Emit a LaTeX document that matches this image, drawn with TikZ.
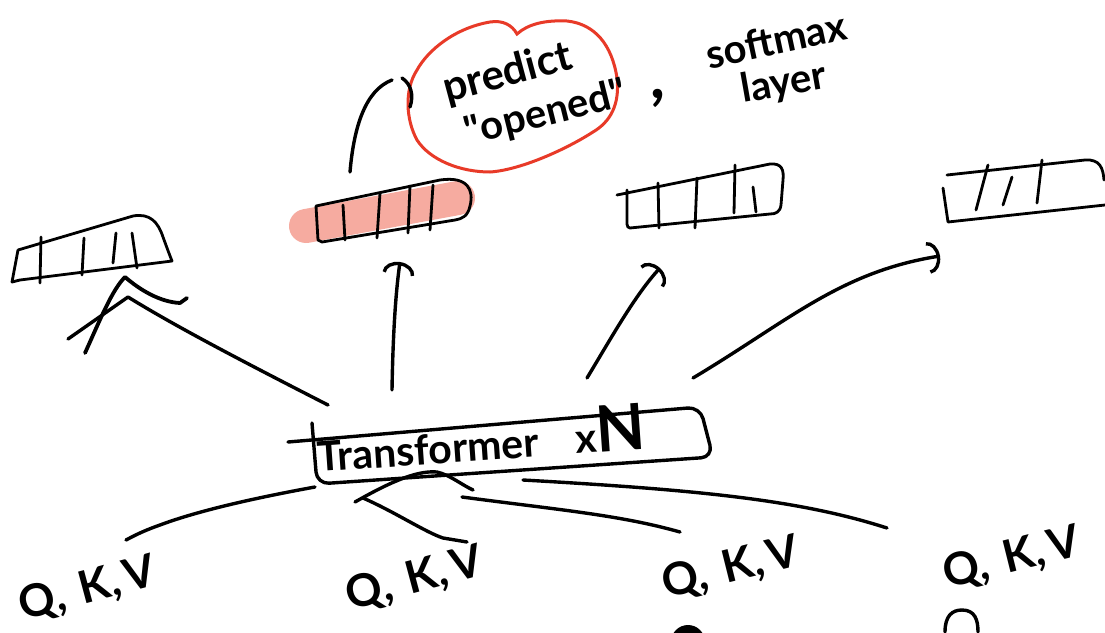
\documentclass[tikz,border=0pt]{standalone}
\usepackage{fontspec}
\setmainfont{Lato}
\usetikzlibrary{arrows.meta}
\definecolor{inkred}{RGB}{232,58,40}
\definecolor{marker}{RGB}{246,171,160}
\newcommand{\qkv}{Q,\hspace{0.35em}K,\hspace{0.12em}V}
\begin{document}
\begin{tikzpicture}[x=1pt,y=-1pt,
  ink/.style={line width=3.4pt,line cap=round,line join=round},
  fine/.style={line width=2.8pt,line cap=round,line join=round},
  hook/.style={ink,-{Arc Barb[length=12pt,width=32pt]}},
  hand/.style={inner sep=0pt,font=\bfseries\fontsize{#1}{#1}\selectfont},
  hand/.default=42]
\useasboundingbox (0,0) rectangle (1105,632);
\fill[white] (0,0) rectangle (1105,632);

% marker stroke behind the predicted vector
\draw[marker,line width=34pt,line cap=round] (306,226) -- (458,198);

% ---- output vectors ----
% vector 1
\draw[fine] (18,250) -- (133,216) .. controls (150,213) and (158,222) .. (163,237)
  .. controls (167,248) and (170,256) .. (172,261) -- (20,280) -- (12,282) -- (18,250);
\draw[fine] (41,237) -- (40,283) (84,238) -- (82,275) (116,233) -- (113,263) (132,233) -- (137,268);
\coordinate (b1) at (128,297);
% vector 2 (the one used for the prediction)
\draw[fine] (316,206) -- (440,180) .. controls (468,176) and (474,190) .. (470,206)
  .. controls (468,216) and (462,219) .. (455,220) -- (322,242) -- (318,240) -- (316,206);
\draw[fine] (343,205) -- (345,240) (380,193) -- (377,238) (410,186) -- (408,233) (433,185) -- (430,230);
\coordinate (b2) at (400,262);
\coordinate (b2top) at (350,172);
% vector 3
\draw[fine] (617,195) -- (770,164) .. controls (782,163) and (784,170) .. (783,180) -- (781,205)
  .. controls (780,212) and (776,214) .. (770,214) -- (630,228)
  .. controls (626,228) and (627,222) .. (627,215) -- (627,190);
\draw[fine] (658,183) -- (659,228) (697,178) -- (695,228) (735,165) -- (734,213) (753,187) -- (756,212);
\coordinate (b3) at (660,268);
% vector 4
\draw[fine] (947,175) -- (1085,160) .. controls (1100,159) and (1103,168) .. (1104,180);
\draw[fine] (943,188) -- (948,222) -- (1105,205);
\draw[fine] (988,165) -- (976,210) (1012,177) -- (1003,205) (1042,160) -- (1037,203);
\coordinate (b4) at (940,256);

% ---- softmax note ----
\draw[inkred,line width=3pt]
  (517,34) .. controls (528,24) and (545,20) .. (567,21)
  .. controls (595,24) and (612,45) .. (617,78)
  .. controls (620,105) and (610,122) .. (593,132)
  .. controls (565,150) and (520,170) .. (490,172)
  .. controls (460,172) and (430,160) .. (417,140)
  .. controls (406,120) and (404,90) .. (417,70)
  .. controls (428,50) and (455,28) .. (490,22)
  .. controls (503,20) and (512,25) .. (517,34) -- cycle;
\node[hand=42,rotate=15] (predict) at (508,74) {predict};
\node[hand=40,rotate=14] (opened) at (546,114) {\textquotedbl opened\textquotedbl};
\node[hand=64] (comma) at (658,98) {,};
\node[hand=40,rotate=12] (softmax) at (776,40) {softmax};
\node[hand=40,rotate=10] (layer) at (784,84) {layer};
\draw[ink] (b2top) .. controls (354,125) and (366,90) .. (392,80);
\draw[ink] (402,78) .. controls (411,84) and (414,95) .. (410,107);

% ---- transformer stack ----
\draw[ink,rounded corners=12pt] (288,442) -- (700,407) -- (713,457) -- (317,484) -- (312,423);
\node[hand=41,rotate=4,anchor=base west] (tf) at (318,472)
  {Transformer\hspace{0.9em}x{\fontsize{64}{64}\selectfont N}};
\coordinate (t1) at (328,405);
\coordinate (t2) at (392,390);
\coordinate (t3) at (587,378);
\coordinate (t4) at (693,378);

% outputs of the stack
\draw[ink] (t1) .. controls (240,360) and (175,326) .. (b1) -- (68,339);
\draw[line width=3.8pt,line cap=round,line join=round]
  (85,353) .. controls (100,320) and (112,290) .. (125,277)
  .. controls (140,290) and (160,302) .. (180,303) -- (187,298);
\draw[hook] (t2) .. controls (393,330) and (396,290) .. (b2);
\draw[hook] (t3) .. controls (610,340) and (635,295) .. (b3);
\draw[hook] (t4) .. controls (790,320) and (840,272) .. (b4);

% ---- inputs ----
\node[hand=45,rotate=15] (q1) at (88,590) {\qkv};
\node[hand=45,rotate=15] (q2) at (415,580) {\qkv};
\node[hand=45,rotate=14] (q3) at (731,569) {\qkv};
\node[hand=45,rotate=14] (q4) at (1012,559) {\qkv};
\coordinate (u1) at (315,487);
\coordinate (u2) at (363,498);
\coordinate (u3) at (462,497);
\coordinate (u4) at (523,480);
\coordinate (e1) at (126,540);
\coordinate (e2) at (467,542);
\coordinate (e3) at (680,532);
\coordinate (e4) at (887,528);
\draw[ink] (u1) .. controls (260,497) and (200,510) .. (160,525) .. controls (140,532) and (130,538) .. (e1);
\draw[ink] (355,502) .. controls (385,485) and (415,470) .. (437,472) .. controls (450,475) and (462,485) .. (473,490);
\draw[ink] (u2) .. controls (395,512) and (425,532) .. (443,538) -- (e2);
\draw[ink] (u3) .. controls (560,510) and (620,515) .. (e3);
\draw[ink] (u4) .. controls (700,490) and (800,500) .. (e4);

% marks below the inputs
\fill (688,642) circle (17);
\draw[ink] (945,632) .. controls (945,616) and (952,610) .. (962,610) .. controls (975,610) and (978,620) .. (978,632);
\end{tikzpicture}
\end{document}
